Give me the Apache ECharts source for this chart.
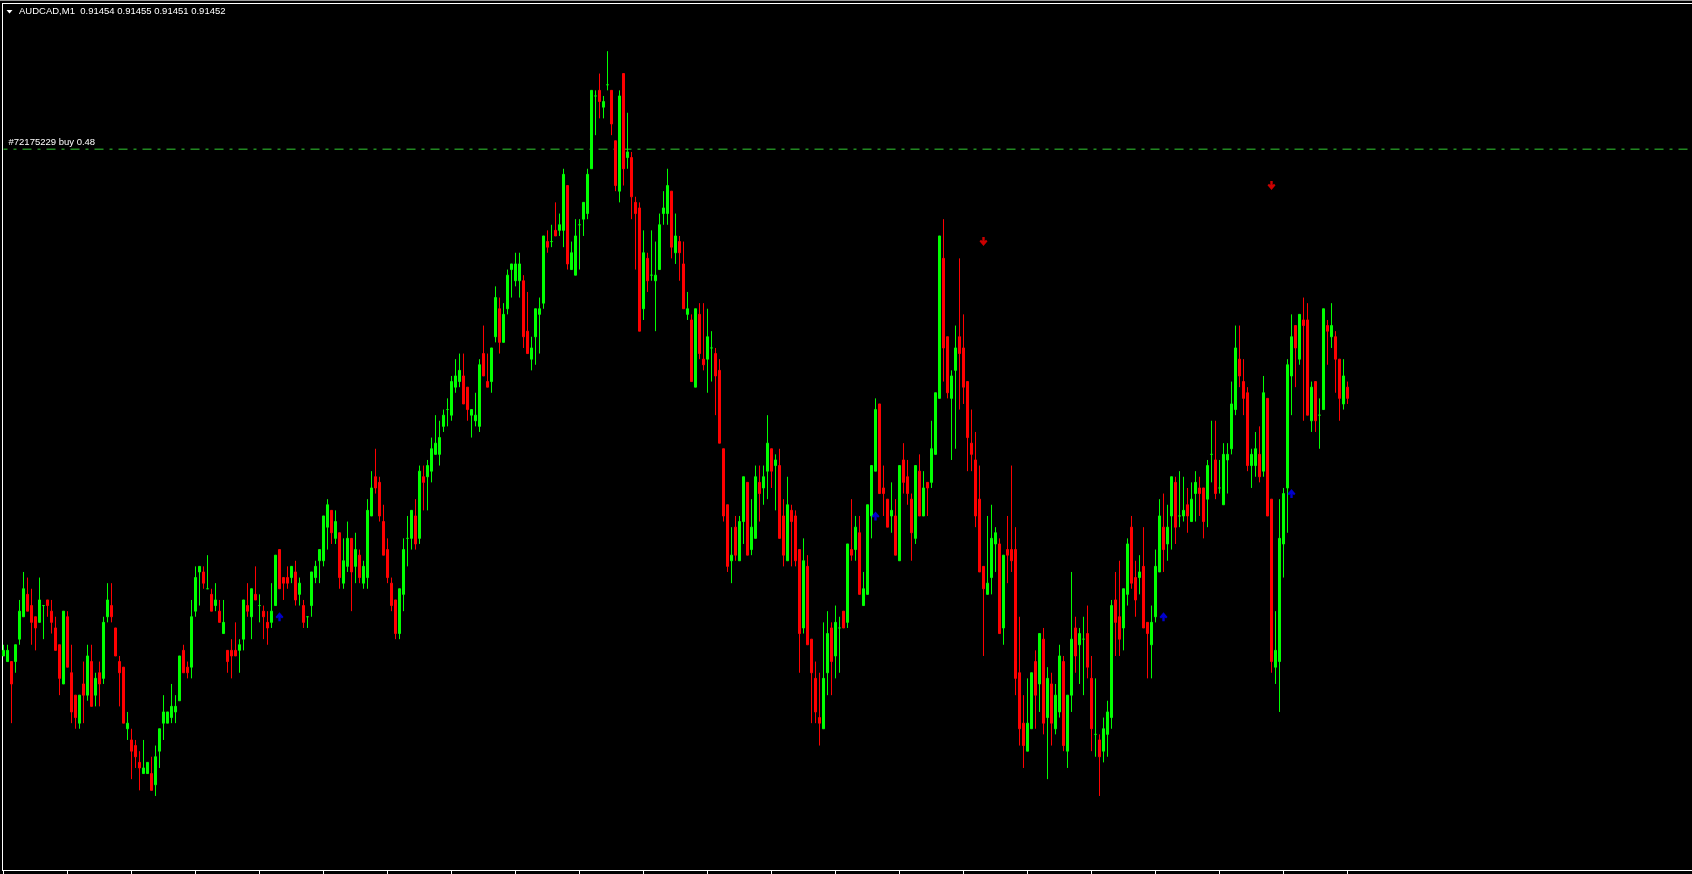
<!DOCTYPE html>
<html>
<head>
<meta charset="utf-8">
<title>AUDCAD,M1</title>
<script src="https://cdn.jsdelivr.net/npm/echarts@6.0.0/dist/echarts.min.js"></script>
<style>
  html, body { margin: 0; padding: 0; background: #000; }
  #chart { width: 1692px; height: 874px; }
</style>
</head>
<body>
<div id="chart"></div>
<script>
// AUDCAD M1 bars, oldest first
const open = [
  0.91406,0.91405,0.91405,0.91405,0.91409,0.91413,0.91417,0.91415,0.91413,0.91412,
  0.91415,0.91416,0.91414,0.91411,0.91408,0.91401,0.91413,0.91403,0.91399,0.91394,
  0.91401,0.91399,0.91405,0.91399,0.91403,0.91402,0.91413,0.91415,0.91411,0.91405,
  0.91404,0.91393,0.91391,0.91390,0.91387,0.91385,0.91385,0.91385,0.91383,0.91389,
  0.91394,0.91394,0.91395,0.91396,0.91398,0.91407,0.91404,0.91404,0.91414,0.91421,
  0.91421,0.91418,0.91417,0.91415,0.91414,0.91410,0.91407,0.91407,0.91407,0.91407,
  0.91409,0.91415,0.91413,0.91417,0.91415,0.91414,0.91412,0.91412,0.91415,0.91425,
  0.91420,0.91420,0.91420,0.91421,0.91417,0.91415,0.91413,0.91415,0.91420,0.91423,
  0.91423,0.91429,0.91432,0.91427,0.91428,0.91419,0.91422,0.91427,0.91422,0.91424,
  0.91419,0.91420,0.91431,0.91438,0.91437,0.91430,0.91425,0.91419,0.91416,0.91410,
  0.91417,0.91427,0.91427,0.91431,0.91427,0.91438,0.91438,0.91439,0.91442,0.91442,
  0.91447,0.91450,0.91449,0.91454,0.91455,0.91456,0.91454,0.91449,0.91448,0.91447,
  0.91460,0.91455,0.91455,0.91463,0.91468,0.91462,0.91468,0.91475,0.91473,0.91473,
  0.91473,0.91464,0.91459,0.91463,0.91467,0.91469,0.91480,0.91480,0.91482,0.91482,
  0.91482,0.91490,0.91475,0.91474,0.91483,0.91484,0.91485,0.91493,0.91506,0.91507,
  0.91504,0.91508,0.91507,0.91498,0.91489,0.91510,0.91495,0.91495,0.91487,0.91486,
  0.91468,0.91477,0.91474,0.91473,0.91475,0.91485,0.91485,0.91489,0.91478,0.91480,
  0.91476,0.91467,0.91466,0.91454,0.91467,0.91459,0.91459,0.91461,0.91460,0.91457,
  0.91443,0.91433,0.91423,0.91429,0.91423,0.91430,0.91437,0.91425,0.91427,0.91437,
  0.91436,0.91439,0.91443,0.91440,0.91440,0.91431,0.91423,0.91432,0.91431,0.91425,
  0.91411,0.91422,0.91409,0.91402,0.91395,0.91393,0.91403,0.91411,0.91406,0.91411,
  0.91414,0.91412,0.91425,0.91425,0.91428,0.91415,0.91417,0.91431,0.91439,0.91451,
  0.91436,0.91434,0.91431,0.91431,0.91423,0.91441,0.91438,0.91434,0.91427,0.91439,
  0.91431,0.91437,0.91437,0.91442,0.91452,0.91477,0.91463,0.91452,0.91457,0.91463,
  0.91461,0.91455,0.91444,0.91441,0.91434,0.91422,0.91417,0.91420,0.91426,0.91426,
  0.91411,0.91425,0.91425,0.91425,0.91403,0.91394,0.91389,0.91393,0.91405,0.91401,
  0.91409,0.91395,0.91401,0.91393,0.91396,0.91405,0.91389,0.91399,0.91411,0.91408,
  0.91409,0.91410,0.91402,0.91392,0.91391,0.91389,0.91392,0.91395,0.91416,0.91413,
  0.91411,0.91417,0.91429,0.91420,0.91420,0.91422,0.91412,0.91408,0.91413,0.91421,
  0.91429,0.91426,0.91431,0.91437,0.91431,0.91431,0.91433,0.91430,0.91435,0.91436,
  0.91436,0.91434,0.91442,0.91441,0.91436,0.91433,0.91441,0.91443,0.91450,0.91459,
  0.91455,0.91453,0.91440,0.91440,0.91442,0.91439,0.91452,0.91434,0.91404,0.91405,
  0.91426,0.91436,0.91456,0.91465,0.91459,0.91466,0.91466,0.91448,0.91455,0.91449,
  0.91450,0.91465,0.91463,0.91463,0.91459,0.91451,0.91454
];
const high = [
  0.91408,0.91408,0.91405,0.91408,0.91416,0.91421,0.91420,0.91418,0.91413,0.91420,
  0.91415,0.91416,0.91416,0.91413,0.91408,0.91414,0.91414,0.91408,0.91399,0.91399,
  0.91405,0.91408,0.91408,0.91403,0.91405,0.91413,0.91419,0.91419,0.91411,0.91406,
  0.91404,0.91396,0.91393,0.91391,0.91389,0.91391,0.91387,0.91388,0.91390,0.91393,
  0.91399,0.91396,0.91401,0.91399,0.91406,0.91408,0.91405,0.91416,0.91422,0.91422,
  0.91422,0.91424,0.91418,0.91419,0.91416,0.91416,0.91407,0.91409,0.91412,0.91409,
  0.91416,0.91419,0.91418,0.91422,0.91417,0.91415,0.91414,0.91419,0.91424,0.91425,
  0.91420,0.91422,0.91422,0.91423,0.91420,0.91416,0.91413,0.91421,0.91423,0.91425,
  0.91431,0.91434,0.91432,0.91432,0.91428,0.91427,0.91430,0.91427,0.91428,0.91425,
  0.91423,0.91434,0.91439,0.91443,0.91438,0.91433,0.91427,0.91420,0.91416,0.91418,
  0.91427,0.91431,0.91432,0.91434,0.91440,0.91440,0.91441,0.91445,0.91449,0.91448,
  0.91450,0.91452,0.91456,0.91459,0.91460,0.91460,0.91454,0.91450,0.91453,0.91459,
  0.91465,0.91460,0.91461,0.91472,0.91470,0.91469,0.91475,0.91476,0.91478,0.91478,
  0.91474,0.91471,0.91463,0.91468,0.91470,0.91481,0.91482,0.91483,0.91487,0.91485,
  0.91493,0.91490,0.91480,0.91484,0.91484,0.91487,0.91493,0.91507,0.91507,0.91510,
  0.91506,0.91514,0.91507,0.91498,0.91507,0.91510,0.91503,0.91496,0.91488,0.91487,
  0.91482,0.91478,0.91482,0.91480,0.91485,0.91489,0.91493,0.91489,0.91485,0.91481,
  0.91480,0.91471,0.91467,0.91468,0.91469,0.91469,0.91468,0.91464,0.91461,0.91459,
  0.91443,0.91433,0.91429,0.91431,0.91431,0.91438,0.91437,0.91434,0.91440,0.91440,
  0.91440,0.91449,0.91443,0.91442,0.91443,0.91434,0.91438,0.91433,0.91432,0.91425,
  0.91427,0.91424,0.91409,0.91405,0.91403,0.91412,0.91414,0.91412,0.91415,0.91413,
  0.91414,0.91426,0.91434,0.91431,0.91431,0.91421,0.91433,0.91440,0.91452,0.91451,
  0.91440,0.91434,0.91437,0.91434,0.91440,0.91444,0.91441,0.91435,0.91440,0.91442,
  0.91439,0.91437,0.91448,0.91453,0.91481,0.91484,0.91463,0.91457,0.91465,0.91477,
  0.91467,0.91455,0.91450,0.91446,0.91440,0.91422,0.91431,0.91433,0.91429,0.91427,
  0.91424,0.91431,0.91440,0.91429,0.91413,0.91399,0.91402,0.91403,0.91407,0.91410,
  0.91411,0.91404,0.91403,0.91401,0.91408,0.91406,0.91399,0.91421,0.91413,0.91411,
  0.91413,0.91415,0.91406,0.91402,0.91392,0.91395,0.91398,0.91416,0.91421,0.91423,
  0.91418,0.91427,0.91431,0.91423,0.91424,0.91429,0.91412,0.91415,0.91425,0.91434,
  0.91435,0.91433,0.91438,0.91438,0.91439,0.91438,0.91436,0.91437,0.91439,0.91438,
  0.91436,0.91441,0.91448,0.91448,0.91441,0.91444,0.91444,0.91455,0.91465,0.91465,
  0.91459,0.91454,0.91443,0.91446,0.91447,0.91456,0.91452,0.91434,0.91414,0.91434,
  0.91436,0.91459,0.91467,0.91465,0.91467,0.91470,0.91469,0.91455,0.91455,0.91452,
  0.91468,0.91466,0.91469,0.91464,0.91459,0.91459,0.91455
];
const low = [
  0.91406,0.91405,0.91394,0.91403,0.91408,0.91413,0.91414,0.91408,0.91407,0.91412,
  0.91409,0.91413,0.91410,0.91407,0.91399,0.91401,0.91404,0.91394,0.91393,0.91393,
  0.91394,0.91398,0.91397,0.91397,0.91397,0.91401,0.91412,0.91412,0.91406,0.91397,
  0.91394,0.91391,0.91384,0.91386,0.91382,0.91385,0.91385,0.91382,0.91381,0.91386,
  0.91391,0.91394,0.91394,0.91394,0.91398,0.91403,0.91402,0.91402,0.91413,0.91415,
  0.91418,0.91418,0.91414,0.91414,0.91412,0.91410,0.91403,0.91402,0.91406,0.91403,
  0.91407,0.91413,0.91409,0.91416,0.91412,0.91409,0.91408,0.91411,0.91415,0.91418,
  0.91416,0.91418,0.91419,0.91415,0.91415,0.91411,0.91411,0.91413,0.91419,0.91419,
  0.91422,0.91425,0.91426,0.91426,0.91418,0.91418,0.91421,0.91414,0.91419,0.91419,
  0.91418,0.91418,0.91431,0.91435,0.91430,0.91424,0.91419,0.91414,0.91409,0.91409,
  0.91414,0.91422,0.91425,0.91425,0.91426,0.91432,0.91432,0.91437,0.91442,0.91440,
  0.91446,0.91447,0.91448,0.91453,0.91454,0.91451,0.91448,0.91445,0.91447,0.91446,
  0.91456,0.91454,0.91453,0.91462,0.91460,0.91462,0.91467,0.91470,0.91472,0.91470,
  0.91461,0.91460,0.91457,0.91458,0.91460,0.91468,0.91478,0.91479,0.91481,0.91481,
  0.91479,0.91475,0.91475,0.91474,0.91475,0.91481,0.91484,0.91493,0.91499,0.91502,
  0.91502,0.91507,0.91499,0.91489,0.91487,0.91490,0.91493,0.91484,0.91475,0.91464,
  0.91466,0.91471,0.91473,0.91464,0.91475,0.91483,0.91483,0.91477,0.91476,0.91473,
  0.91468,0.91466,0.91455,0.91454,0.91459,0.91457,0.91453,0.91455,0.91449,0.91444,
  0.91430,0.91421,0.91419,0.91423,0.91423,0.91426,0.91424,0.91424,0.91427,0.91430,
  0.91433,0.91434,0.91436,0.91432,0.91427,0.91422,0.91423,0.91422,0.91422,0.91403,
  0.91410,0.91408,0.91394,0.91394,0.91390,0.91393,0.91399,0.91399,0.91402,0.91403,
  0.91411,0.91411,0.91423,0.91423,0.91417,0.91415,0.91417,0.91427,0.91439,0.91435,
  0.91431,0.91429,0.91428,0.91424,0.91423,0.91435,0.91433,0.91423,0.91426,0.91431,
  0.91431,0.91431,0.91436,0.91442,0.91452,0.91455,0.91452,0.91441,0.91443,0.91450,
  0.91451,0.91439,0.91439,0.91429,0.91421,0.91406,0.91417,0.91417,0.91421,0.91410,
  0.91408,0.91419,0.91421,0.91399,0.91390,0.91386,0.91389,0.91393,0.91393,0.91396,
  0.91392,0.91384,0.91390,0.91392,0.91395,0.91389,0.91386,0.91396,0.91403,0.91401,
  0.91399,0.91402,0.91389,0.91388,0.91381,0.91387,0.91388,0.91393,0.91406,0.91406,
  0.91407,0.91415,0.91418,0.91413,0.91417,0.91411,0.91402,0.91402,0.91412,0.91421,
  0.91421,0.91423,0.91425,0.91426,0.91429,0.91430,0.91428,0.91430,0.91430,0.91431,
  0.91427,0.91429,0.91437,0.91434,0.91435,0.91433,0.91435,0.91442,0.91449,0.91454,
  0.91449,0.91439,0.91436,0.91438,0.91437,0.91438,0.91431,0.91403,0.91401,0.91396,
  0.91420,0.91428,0.91449,0.91454,0.91458,0.91448,0.91449,0.91446,0.91446,0.91443,
  0.91450,0.91458,0.91461,0.91453,0.91448,0.91450,0.91451
];
const close = [
  0.91407,0.91407,0.91401,0.91408,0.91414,0.91418,0.91414,0.91412,0.91411,0.91416,
  0.91415,0.91415,0.91412,0.91407,0.91402,0.91414,0.91404,0.91396,0.91395,0.91399,
  0.91399,0.91406,0.91397,0.91402,0.91401,0.91412,0.91416,0.91413,0.91406,0.91403,
  0.91394,0.91394,0.91389,0.91388,0.91386,0.91386,0.91387,0.91382,0.91388,0.91393,
  0.91396,0.91396,0.91397,0.91397,0.91406,0.91403,0.91403,0.91413,0.91420,0.91422,
  0.91419,0.91418,0.91414,0.91416,0.91412,0.91412,0.91405,0.91406,0.91406,0.91408,
  0.91416,0.91414,0.91418,0.91416,0.91415,0.91413,0.91411,0.91414,0.91424,0.91418,
  0.91419,0.91419,0.91422,0.91416,0.91419,0.91412,0.91413,0.91421,0.91422,0.91425,
  0.91431,0.91433,0.91428,0.91430,0.91420,0.91423,0.91427,0.91421,0.91425,0.91420,
  0.91422,0.91432,0.91436,0.91436,0.91431,0.91424,0.91420,0.91415,0.91410,0.91418,
  0.91425,0.91427,0.91432,0.91426,0.91439,0.91437,0.91440,0.91443,0.91444,0.91445,
  0.91449,0.91450,0.91455,0.91456,0.91457,0.91451,0.91450,0.91450,0.91449,0.91458,
  0.91456,0.91454,0.91461,0.91470,0.91462,0.91467,0.91474,0.91476,0.91476,0.91476,
  0.91463,0.91460,0.91461,0.91468,0.91468,0.91481,0.91479,0.91480,0.91481,0.91483,
  0.91492,0.91476,0.91478,0.91481,0.91483,0.91487,0.91492,0.91507,0.91506,0.91505,
  0.91505,0.91508,0.91501,0.91490,0.91506,0.91493,0.91496,0.91488,0.91485,0.91464,
  0.91478,0.91473,0.91474,0.91474,0.91483,0.91486,0.91490,0.91479,0.91481,0.91478,
  0.91468,0.91468,0.91455,0.91468,0.91460,0.91458,0.91463,0.91461,0.91456,0.91444,
  0.91431,0.91422,0.91424,0.91424,0.91430,0.91438,0.91424,0.91429,0.91438,0.91435,
  0.91438,0.91444,0.91439,0.91441,0.91427,0.91424,0.91433,0.91430,0.91423,0.91410,
  0.91423,0.91408,0.91403,0.91396,0.91394,0.91402,0.91410,0.91405,0.91412,0.91411,
  0.91411,0.91426,0.91424,0.91429,0.91417,0.91418,0.91433,0.91440,0.91450,0.91435,
  0.91435,0.91429,0.91432,0.91424,0.91440,0.91437,0.91435,0.91428,0.91440,0.91431,
  0.91436,0.91436,0.91443,0.91453,0.91481,0.91461,0.91453,0.91456,0.91461,0.91460,
  0.91454,0.91445,0.91442,0.91431,0.91421,0.91418,0.91419,0.91427,0.91428,0.91410,
  0.91424,0.91424,0.91423,0.91402,0.91393,0.91390,0.91394,0.91403,0.91399,0.91410,
  0.91394,0.91402,0.91394,0.91399,0.91406,0.91390,0.91399,0.91409,0.91406,0.91410,
  0.91409,0.91404,0.91393,0.91392,0.91388,0.91393,0.91396,0.91415,0.91412,0.91409,
  0.91418,0.91426,0.91419,0.91416,0.91421,0.91411,0.91410,0.91412,0.91422,0.91431,
  0.91425,0.91429,0.91438,0.91429,0.91431,0.91432,0.91431,0.91434,0.91437,0.91435,
  0.91430,0.91440,0.91442,0.91435,0.91436,0.91442,0.91442,0.91451,0.91461,0.91456,
  0.91452,0.91440,0.91442,0.91443,0.91438,0.91453,0.91431,0.91405,0.91407,0.91427,
  0.91435,0.91458,0.91463,0.91461,0.91467,0.91465,0.91449,0.91454,0.91448,0.91449,
  0.91468,0.91464,0.91465,0.91459,0.91452,0.91456,0.91452
];

// signal arrows (bar index, price)
const upArrowBars = [69, 218, 290, 322];
const upArrowPrices = [0.91413, 0.91431, 0.91413, 0.91435];
const downArrowBars = [245, 317];
const downArrowPrices = [0.91480, 0.91490];

// open order
const orderPrice = 0.914965;
const orderLabel = '#72175229 buy 0.48';

// header: symbol + O H L C of the last bar
const symbolName = 'AUDCAD,M1';
const lastBarOHLC = [0.91454, 0.91455, 0.91451, 0.91452];

// visible price range and bar slots (empty space after the last bar)
const priceMin = 0.913676;
const priceMax = 0.915226;
const slotCount = 422;
const tickEvery = 16;

const FONT = '"Liberation Sans", Arial, sans-serif';
// bold chevron arrows like the terminal's signal glyphs
const UP_ARROW = 'path://M2.8,9 L5.2,9 L5.2,5 L6.5,6.2 L8,4.7 L4,0 L0,4.7 L1.5,6.2 L2.8,5 Z';
const DOWN_ARROW = 'path://M2.8,0 L5.2,0 L5.2,4 L6.5,2.8 L8,4.3 L4,9 L0,4.3 L1.5,2.8 L2.8,4 Z';

const slots = Array.from({ length: slotCount }, (_, i) => String(i));
const candles = open.map((o, i) => [o, close[i], low[i], high[i]]);
// order line runs right-to-left so its end label sits at the left edge
const orderLine = [[slotCount - 1, orderPrice], [0, orderPrice]];

const chart = echarts.init(document.getElementById('chart'));

chart.setOption({
  backgroundColor: '#000',
  animation: false,
  grid: { left: 1.5, right: 2.5, top: 3, bottom: 3 },
  xAxis: {
    type: 'category',
    data: slots,
    boundaryGap: true,
    axisLine: { show: false, onZero: false },
    axisTick: {
      show: true,
      alignWithLabel: true,
      length: 3,
      interval: (idx) => idx % tickEvery === 0 && idx < open.length,
      lineStyle: { color: '#fff' }
    },
    axisLabel: { show: false },
    splitLine: { show: false }
  },
  yAxis: {
    type: 'value',
    min: priceMin,
    max: priceMax,
    axisLine: { show: false },
    axisTick: { show: false },
    axisLabel: { show: false },
    splitLine: { show: false }
  },
  series: [
    {
      type: 'line',
      data: orderLine,
      symbol: 'none',
      silent: true,
      lineStyle: { color: '#32cd32', width: 1, type: [9, 6, 3, 6] },
      endLabel: {
        show: true,
        formatter: orderLabel,
        color: '#fff',
        fontFamily: FONT,
        fontSize: 9.5,
        distance: 5,
        offset: [0, -7]
      },
      z: 1
    },
    {
      type: 'candlestick',
      data: candles,
      barWidth: 2,
      itemStyle: {
        color: '#00ff00',
        color0: '#ff0000',
        borderColor: '#00ff00',
        borderColor0: '#ff0000',
        borderColorDoji: '#00ff00',
        borderWidth: 1
      },
      emphasis: { disabled: true },
      z: 2
    },
    {
      type: 'scatter',
      data: upArrowBars.map((b, i) => [b, upArrowPrices[i]]),
      symbol: UP_ARROW,
      symbolSize: [8, 9],
      itemStyle: { color: '#0000ff' },
      silent: true,
      z: 3
    },
    {
      type: 'scatter',
      data: downArrowBars.map((b, i) => [b, downArrowPrices[i]]),
      symbol: DOWN_ARROW,
      symbolSize: [8, 9],
      itemStyle: { color: '#ff0000' },
      silent: true,
      z: 3
    }
  ],
  graphic: [
    // window frame
    { type: 'rect', silent: true, shape: { x: 0, y: 0, width: 1692, height: 1 }, style: { fill: '#9a9a9a' } },
    { type: 'rect', silent: true, shape: { x: 2, y: 3, width: 1690, height: 1 }, style: { fill: '#fff' } },
    { type: 'rect', silent: true, shape: { x: 2, y: 3, width: 1, height: 868 }, style: { fill: '#fff' } },
    { type: 'rect', silent: true, shape: { x: 2, y: 870, width: 1690, height: 1 }, style: { fill: '#fff' } },
    // header
    { type: 'polygon', silent: true, shape: { points: [[6.5, 10], [12.5, 10], [9.5, 13.5]] }, style: { fill: '#fff' } },
    {
      type: 'text',
      left: 19,
      top: 6,
      silent: true,
      style: {
        text: symbolName + '  ' + lastBarOHLC.map(v => v.toFixed(5)).join(' '),
        fill: '#fff',
        fontFamily: FONT,
        fontSize: 9.5
      }
    }
  ]
});
</script>
</body>
</html>
